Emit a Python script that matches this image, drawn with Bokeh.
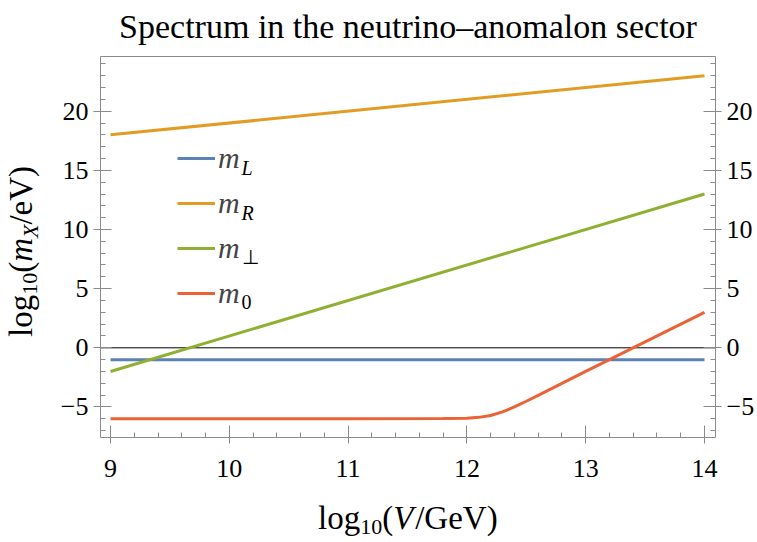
from bokeh.plotting import figure
from bokeh.models import (Label, Legend, LegendItem, LinearAxis, FixedTicker,
                          CustomJSTickFormatter, Range1d)
from bokeh.embed import file_html
from bokeh.resources import INLINE

# ---------------- data ----------------
x_L = [9.0, 14.0]
y_L = [-1.0, -1.0]
x_R = [9.0, 14.0]
y_R = [18.0, 23.0]
x_P = [9.0, 14.0]
y_P = [-2.0, 13.0]
x_0 = [9.0, 10.0, 11.0, 11.8, 12.0, 12.1, 12.2, 12.3, 12.4, 12.5, 12.6, 12.8, 13.0, 13.2, 13.5, 14.0]
y_0 = [-6.0, -6.0, -6.0, -5.98, -5.95, -5.88, -5.72, -5.42, -5.0, -4.52, -4.02, -3.0, -2.0, -1.0, 0.5, 3.0]

x_ticks = [9, 10, 11, 12, 13, 14]
x_minor = [9.2, 9.4, 9.6, 9.8, 10.2, 10.4, 10.6, 10.8, 11.2, 11.4, 11.6, 11.8,
           12.2, 12.4, 12.6, 12.8, 13.2, 13.4, 13.6, 13.8]
y_ticks = [-5, 0, 5, 10, 15, 20]
y_minor = [-7, -6, -4, -3, -2, -1, 1, 2, 3, 4, 6, 7, 8, 9, 11, 12, 13, 14,
           16, 17, 18, 19, 21, 22, 23, 24]

title_text = "Spectrum in the neutrino\u2013anomalon sector"
legend_sub = ["L", "R", "\u22a5", "0"]

C_L = "#5E81B5"
C_R = "#E19C24"
C_P = "#8FB032"
C_0 = "#EB6235"
GRAY = "#8a8a8a"
TICK_FONT = "serif"
LEG_FONT = "Liberation Serif"
SERIF = "'Liberation Serif', serif"

# ---------------- layout (canvas pixels, y from top) ----------------
W, H = 756, 541
PX9, PX14 = 110.0, 704.0        # pixel of x = 9 and x = 14
PY0, PY20 = 347.3, 110.7        # pixel of y = 0 and y = 20
BOX_L, BOX_R, BOX_T, BOX_B = 100.0, 715.0, 56.0, 437.0
SX = (PX14 - PX9) / 5.0
SY = (PY0 - PY20) / 20.0


def dx(px):
    return 9.0 + (px - PX9) / SX


def dy(py):
    return (PY0 - py) / SY


bx0, bx1 = dx(BOX_L), dx(BOX_R)
by0, by1 = dy(BOX_B), dy(BOX_T)

p = figure(width=W, height=H, x_range=Range1d(dx(0), dx(W)), y_range=Range1d(dy(H), dy(0)),
           output_backend="svg", toolbar_location=None,
           min_border=0, min_border_left=0, min_border_right=0, min_border_top=0, min_border_bottom=0)
p.title = None
p.background_fill_color = "white"
p.border_fill_color = "white"
p.outline_line_color = None
p.xgrid.visible = False
p.ygrid.visible = False

fmt = CustomJSTickFormatter(code="return tick < 0 ? '\\u2212' + Math.abs(tick) : String(tick);")


def style(ax, ticks, minor, out, inn, standoff):
    ax.ticker = FixedTicker(ticks=ticks, minor_ticks=minor)
    ax.formatter = fmt
    ax.axis_line_color = GRAY
    ax.major_tick_line_color = GRAY
    ax.minor_tick_line_color = GRAY
    ax.major_tick_out = out
    ax.major_tick_in = inn
    ax.minor_tick_out = 0
    ax.minor_tick_in = 5
    ax.major_label_text_font = TICK_FONT
    ax.major_label_text_font_size = "26px"
    ax.major_label_text_color = "black"
    ax.major_label_standoff = standoff


xb = p.xaxis[0]
style(xb, x_ticks, x_minor, 6, 12, 16)
xb.fixed_location = by0
xb.bounds = (bx0, bx1)

yl = p.yaxis[0]
style(yl, y_ticks, y_minor, 7, 11, 5)
yl.fixed_location = bx0
yl.bounds = (by0, by1)

yr = LinearAxis()
style(yr, y_ticks, y_minor, 6, 12, 5)
yr.fixed_location = bx1
yr.bounds = (by0, by1)
p.add_layout(yr, "right")

xt = LinearAxis(ticker=FixedTicker(ticks=[]), fixed_location=by1, bounds=(bx0, bx1),
                axis_line_color=GRAY, major_tick_line_color=None, minor_tick_line_color=None,
                major_label_text_font_size="0px")
p.add_layout(xt, "above")

# zero reference line across the frame
p.segment(x0=[bx0], y0=[0], x1=[bx1], y1=[0], line_color="black", line_width=1)

rL = p.line(x_L, y_L, line_color=C_L, line_width=3)
rR = p.line(x_R, y_R, line_color=C_R, line_width=3)
rP = p.line(x_P, y_P, line_color=C_P, line_width=3)
r0 = p.line(x_0, y_0, line_color=C_0, line_width=3)

ROW_H, ROW_GAP = 36, 9
legend = Legend(items=[LegendItem(label="m", renderers=[r]) for r in (rL, rR, rP, r0)],
                location=(177, H - 293 - ROW_H / 2), orientation="vertical",
                border_line_color=None, background_fill_alpha=0, padding=0, margin=0,
                spacing=ROW_GAP, glyph_width=38, glyph_height=ROW_H, label_height=ROW_H,
                label_standoff=3,
                label_text_font=LEG_FONT, label_text_font_style="italic", label_text_font_size="30px")
p.add_layout(legend)


def lab(text, x, y, size, style="normal", angle=0.0, align="left"):
    p.add_layout(Label(x=x, y=H - y, x_units="screen", y_units="screen", text=text,
                       angle=angle, angle_units="rad", text_font=SERIF, text_font_style=style,
                       text_font_size=f"{size}px", text_baseline="alphabetic", text_align=align,
                       text_color="black"))


ADJ = 0.33  # baseline compensation (fraction of font size)

# title
lab(title_text, (BOX_L + BOX_R) / 2, 37 - ADJ * 34, 34, align="center")

# legend subscripts
for i, s in enumerate(legend_sub):
    lab(s, 241, 174 - ADJ * 20 + 44.7 * i, 20, "italic" if s in ("L", "R") else "normal")

# x-axis title: log10(V/GeV)
x_pieces = [("log", 33, "normal", 0, 42.2), ("10", 22, "normal", 6, 22.0),
            ("(", 33, "normal", 0, 11.0), ("V", 33, "italic", 0, 22.0),
            ("/GeV)", 33, "normal", 0, 82.5)]
pos = 317.5
for t, fs, st, off, w in x_pieces:
    lab(t, pos, 528 + off - ADJ * fs, fs, st)
    pos += w

# y-axis title: log10(m_X/eV), rotated
y_pieces = [("log", 33, "normal", 0, 42.2), ("10", 22, "normal", 6, 22.0),
            ("(", 33, "normal", 0, 11.0), ("m", 33, "italic", 0, 23.8),
            ("X", 22, "italic", 6, 13.4), ("/eV)", 33, "normal", 0, 58.6)]
pos = 336.5
for t, fs, st, off, w in y_pieces:
    lab(t, 31 + off - ADJ * fs, pos, fs, st, angle=1.5707963267948966)
    pos -= w

open("out.html", "w").write(file_html(p, INLINE))
